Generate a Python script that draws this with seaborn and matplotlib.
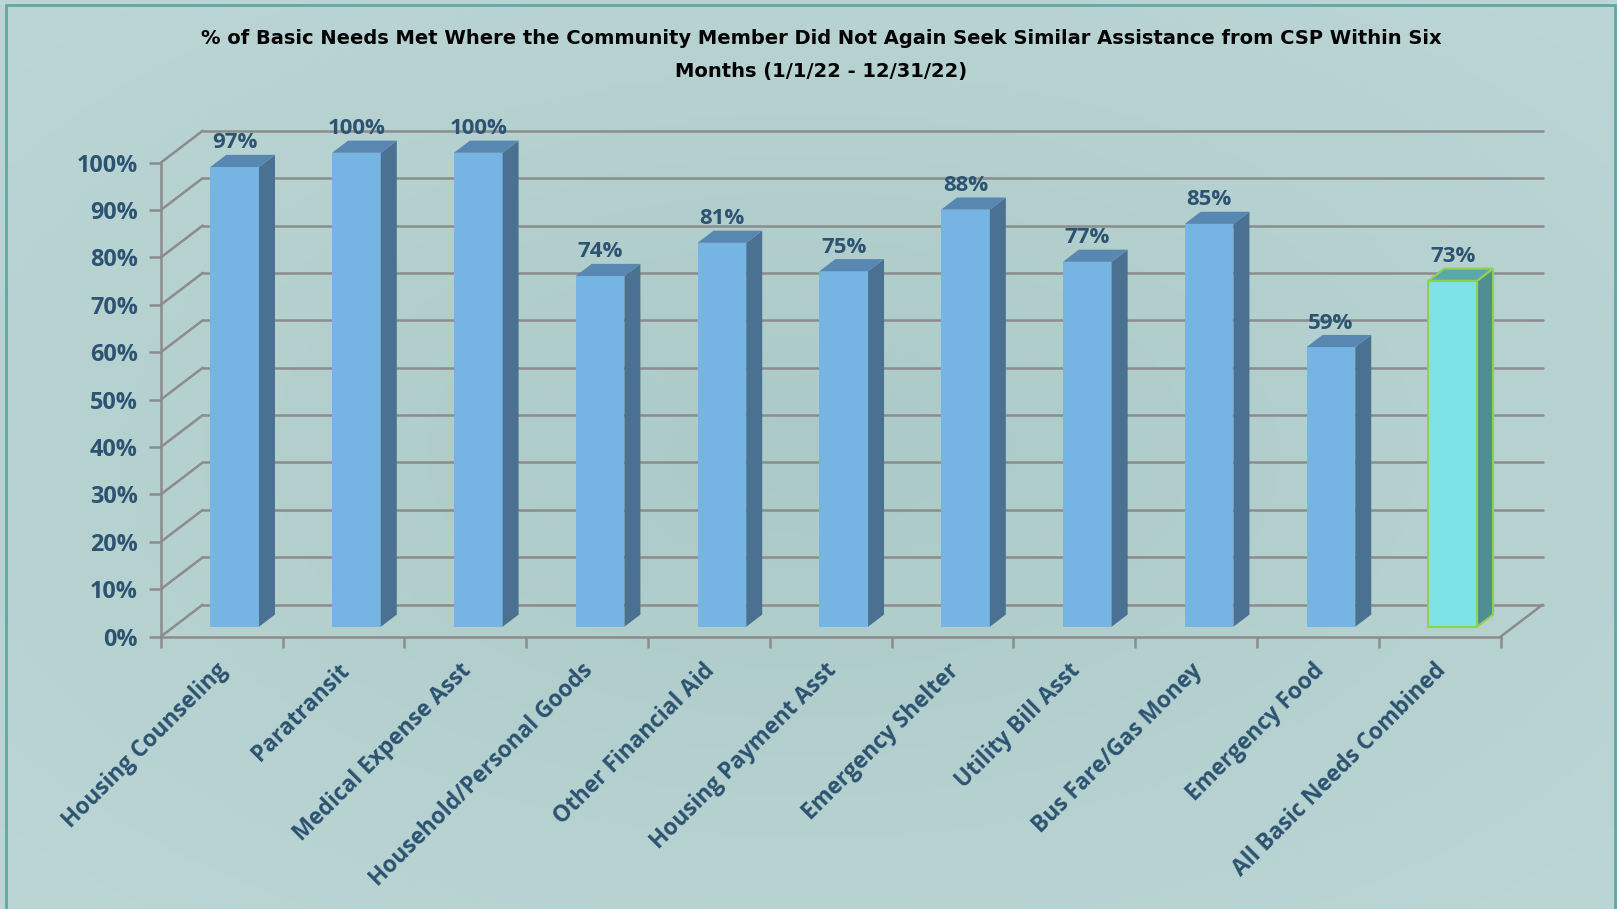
import numpy as np
import matplotlib
matplotlib.use("Agg")
import matplotlib.pyplot as plt
from matplotlib.patches import Polygon
from matplotlib.lines import Line2D
from matplotlib.colors import LinearSegmentedColormap
from matplotlib.transforms import ScaledTranslation
import seaborn as sns

categories = ["Housing Counseling", "Paratransit", "Medical Expense Asst",
              "Household/Personal Goods", "Other Financial Aid", "Housing Payment Asst",
              "Emergency Shelter", "Utility Bill Asst", "Bus Fare/Gas Money",
              "Emergency Food", "All Basic Needs Combined"]
values = [97, 100, 100, 74, 81, 75, 88, 77, 85, 59, 73]
y_ticks = list(range(0, 101, 10))
title_lines = ["% of Basic Needs Met Where the Community Member Did Not Again Seek Similar Assistance from CSP Within Six",
               "Months (1/1/22 - 12/31/22)"]

front_colors = ["#75b4e3"] * 10 + ["#7de3e6"]
side_colors = ["#4a7191"] * 10 + ["#4f8e93"]
top_colors = ["#5888b1"] * 10 + ["#5ba8ab"]
edge_colors = ["none"] * 10 + ["#92d050"]

text_color = "#2c5371"
grid_color = "#8c8c8c"

# fake 3d depth of the plot box, in data units
DX = 0.345
DY = 6.75
Z0 = 0.31   # where the bar front sits inside the depth
ZB = 0.38   # how deep the bar is

sns.set_theme(style="white")
plt.rcParams["font.family"] = ["Open Sans", "DejaVu Sans"]

fig = plt.figure(figsize=(16.17, 9.09), dpi=100)

# soft background gradient like the excel chart area
bg = fig.add_axes([0, 0, 1, 1], zorder=-10)
yy, xx = np.mgrid[0:1:200j, 0:1:360j]
r = np.sqrt(((xx - 0.5) / 0.75) ** 2 + ((yy - 0.5) / 0.75) ** 2)
cmap = LinearSegmentedColormap.from_list("bg", ["#abcac7", "#bcd6d6"])
bg.imshow(np.clip(r, 0, 1), cmap=cmap, aspect="auto", extent=[0, 1, 0, 1])
bg.axis("off")

n = len(categories)
ax = fig.add_axes([0.0994, 0.2996, 0.8546, 0.5566])
ax.patch.set_alpha(0)
sns.barplot(x=categories, y=values, hue=categories, palette=front_colors,
            width=0.4, saturation=1, legend=False, ax=ax)

ox, oy = Z0 * DX, Z0 * DY
bx, by = ZB * DX, ZB * DY
bars = sorted(ax.patches, key=lambda p: p.get_x())
for bar, top_c, side_c, edge_c in zip(bars, top_colors, side_colors, edge_colors):
    x0 = bar.get_x() + ox
    w = bar.get_width()
    h = bar.get_height()
    bar.set_xy((x0, oy))
    bar.set_edgecolor(edge_c)
    bar.set_linewidth(1.5)
    bar.set_zorder(3)
    side = Polygon([(x0 + w, oy), (x0 + w + bx, oy + by), (x0 + w + bx, oy + h + by), (x0 + w, oy + h)],
                   closed=True, fc=side_c, ec=edge_c, lw=1.5, zorder=3)
    top = Polygon([(x0, oy + h), (x0 + bx, oy + h + by), (x0 + w + bx, oy + h + by), (x0 + w, oy + h)],
                  closed=True, fc=top_c, ec=edge_c, lw=1.5, zorder=3)
    ax.add_patch(side)
    ax.add_patch(top)
    ax.annotate(f"{h:.0f}%", (x0 + w / 2, oy + h + by), xytext=(0, 1), textcoords="offset points",
                ha="center", va="bottom", color=text_color, fontsize=16, fontweight="bold")

# back wall, side wall and floor lines
for t in y_ticks:
    ax.plot([-0.5, -0.5 + DX], [t, t + DY], color=grid_color, lw=1.8, zorder=1, clip_on=False)
    ax.plot([-0.5 + DX, n - 0.5 + DX], [t + DY, t + DY], color=grid_color, lw=1.8, zorder=1, clip_on=False)
ax.plot([n - 0.5, n - 0.5 + DX], [0, DY], color=grid_color, lw=1.8, zorder=1, clip_on=False)

sns.despine(ax=ax, top=True, right=True)
ax.spines["left"].set_bounds(0, 100)
ax.spines["bottom"].set_bounds(-0.5, n - 0.5)
for s in ["left", "bottom"]:
    ax.spines[s].set_color(grid_color)
    ax.spines[s].set_linewidth(1.8)
    ax.spines[s].set_zorder(2)

ax.set_xlim(-0.5, n - 0.5 + DX)
ax.set_ylim(0, 100 + DY)
ax.set_yticks(y_ticks, [f"{t}%" for t in y_ticks], fontweight="bold")
ax.set_xticks(range(n), categories, rotation=45, ha="right", va="center",
              rotation_mode="anchor", fontweight="bold")
ax.set_xticks(np.arange(-0.5, n), minor=True)
ax.tick_params(axis="x", which="major", bottom=True, length=0, pad=22,
               labelsize=16.3, labelcolor=text_color)
ax.tick_params(axis="x", which="minor", bottom=True, length=8, width=1.8, color=grid_color)
ax.tick_params(axis="y", left=True, length=9, width=1.8, color=grid_color, pad=7.5,
               labelsize=16.8, labelcolor=text_color)
for lab in ax.get_xticklabels():
    lab.set_transform(lab.get_transform() + ScaledTranslation(2 / 72, 0, fig.dpi_scale_trans))
ax.set_xlabel("")
ax.set_ylabel("")

fig.text(0.508, 1 - 39 / 909, title_lines[0], ha="center", va="center",
         fontsize=14, fontweight="bold", color="black", family=["DejaVu Sans"])
fig.text(0.508, 1 - 72 / 909, title_lines[1], ha="center", va="center",
         fontsize=14, fontweight="bold", color="black", family=["DejaVu Sans"])

# chart border
border = "#62a7a2"
fig.add_artist(Line2D([6 / 1617, 6 / 1617], [0, 1 - 5 / 909], color=border, lw=2))
fig.add_artist(Line2D([6 / 1617, 1615 / 1617], [1 - 5 / 909, 1 - 5 / 909], color=border, lw=2))
fig.add_artist(Line2D([1615 / 1617, 1615 / 1617], [0, 1 - 5 / 909], color=border, lw=2))

fig.savefig("out.png", dpi=100)
